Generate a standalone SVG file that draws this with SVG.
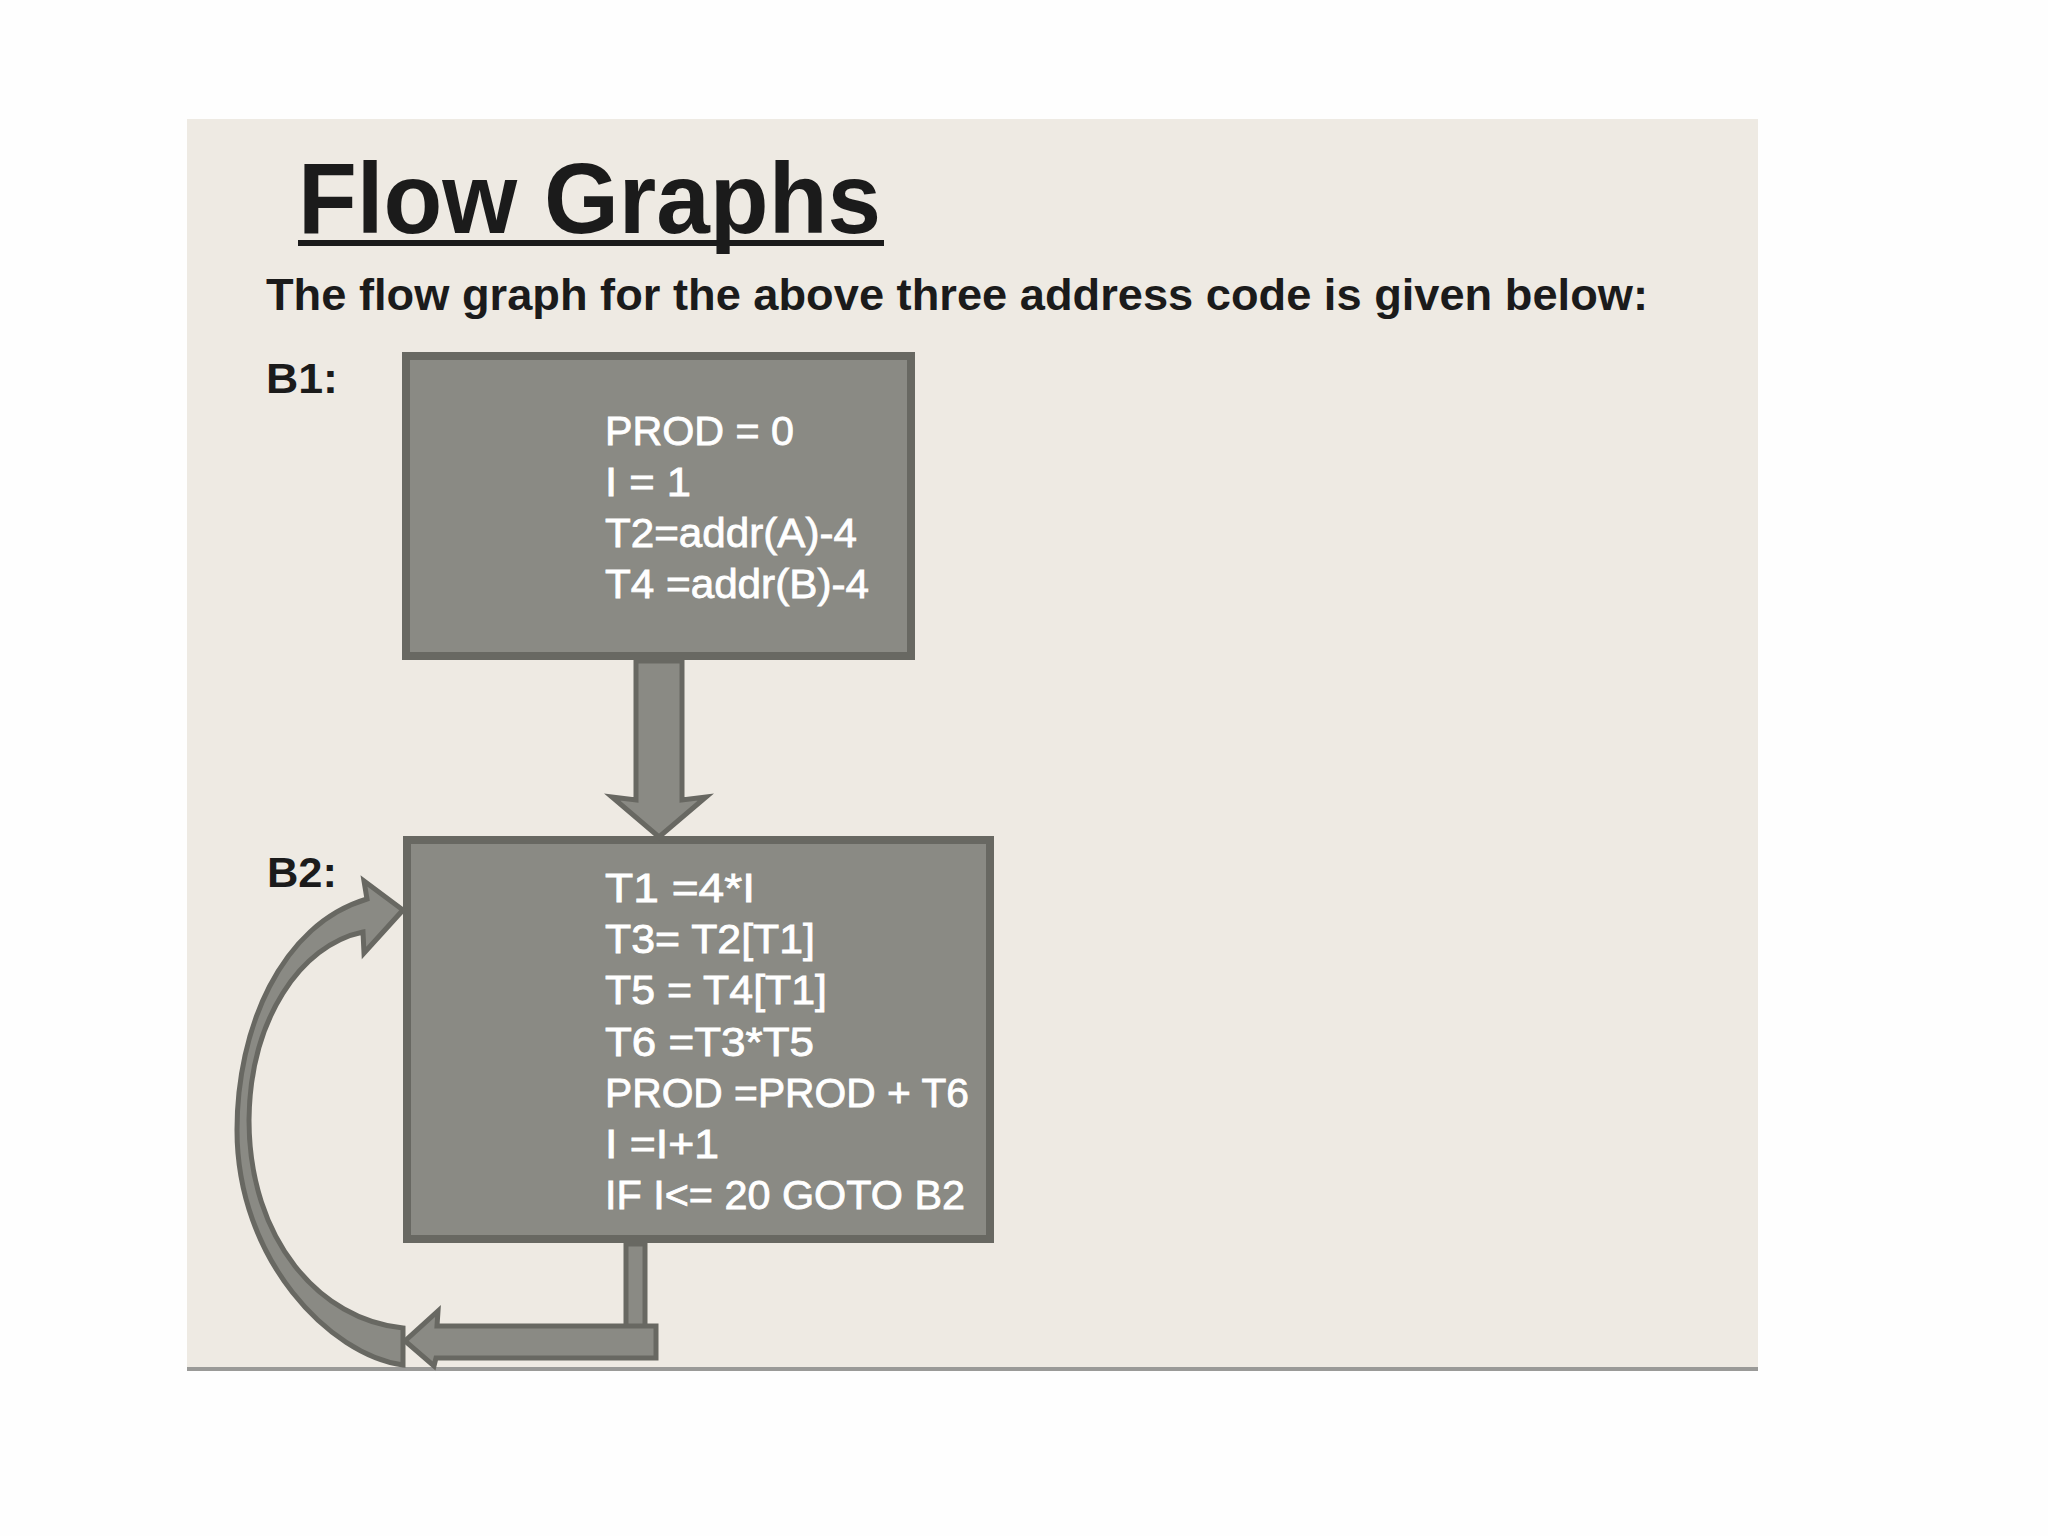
<svg xmlns="http://www.w3.org/2000/svg" width="2048" height="1536" viewBox="0 0 2048 1536">
<defs>
<style>
.hdr{font-family:"Liberation Sans",Arial,sans-serif;font-weight:bold;fill:#1b1b1b}
.code{font-family:"Liberation Sans",Arial,sans-serif;font-size:41px;fill:#ffffff;stroke:#ffffff;stroke-width:0.8}
.box{fill:#8a8a84;stroke:#686862;stroke-width:8}
.conn{fill:#8a8a84;stroke:#686862;stroke-width:5;stroke-linejoin:miter}
</style>
</defs>
<rect x="0" y="0" width="2048" height="1536" fill="#fefefe"/>
<rect x="187" y="119" width="1571" height="1250" fill="#eeeae3"/>
<line x1="187" y1="1369" x2="1758" y2="1369" stroke="#9a9a98" stroke-width="4"/>
<g id="title">
<text class="hdr" x="298" y="233" font-size="100" textLength="583" lengthAdjust="spacingAndGlyphs">Flow Graphs</text>
<rect x="298" y="240" width="586" height="6" fill="#1b1b1b"/>
</g>
<g id="subtitle">
<text class="hdr" x="266" y="310" font-size="44" textLength="1382" lengthAdjust="spacingAndGlyphs">The flow graph for the above  three address code is given below:</text>
</g>
<g id="B1">
<text class="hdr" x="266" y="393" font-size="42" textLength="72" lengthAdjust="spacingAndGlyphs">B1:</text>
<rect class="box" x="406" y="356" width="505" height="300"/>
<text class="code" x="605" y="445" textLength="189" lengthAdjust="spacingAndGlyphs">PROD = 0</text>
<text class="code" x="605" y="496" textLength="86" lengthAdjust="spacingAndGlyphs">I = 1</text>
<text class="code" x="605" y="547" textLength="252" lengthAdjust="spacingAndGlyphs">T2=addr(A)-4</text>
<text class="code" x="605" y="598" textLength="264" lengthAdjust="spacingAndGlyphs">T4 =addr(B)-4</text>
</g>
<g id="B2">
<text class="hdr" x="267" y="887" font-size="42" textLength="70" lengthAdjust="spacingAndGlyphs">B2:</text>
<rect class="box" x="407" y="840" width="583" height="399"/>
<text class="code" x="605" y="902" textLength="150" lengthAdjust="spacingAndGlyphs">T1 =4*I</text>
<text class="code" x="605" y="953" textLength="210" lengthAdjust="spacingAndGlyphs">T3= T2[T1]</text>
<text class="code" x="605" y="1004" textLength="222" lengthAdjust="spacingAndGlyphs">T5 = T4[T1]</text>
<text class="code" x="605" y="1056" textLength="209" lengthAdjust="spacingAndGlyphs">T6 =T3*T5</text>
<text class="code" x="605" y="1107" textLength="364" lengthAdjust="spacingAndGlyphs">PROD =PROD + T6</text>
<text class="code" x="605" y="1158" textLength="114" lengthAdjust="spacingAndGlyphs">I =I+1</text>
<text class="code" x="605" y="1209" textLength="360" lengthAdjust="spacingAndGlyphs">IF I&lt;= 20 GOTO B2</text>
</g>
<g id="connectors">
<path class="conn" d="M636,661 L682,661 L682,800 L706,797 L659,837 L612,797 L636,800 Z"/>
<rect class="conn" x="626" y="1244" width="19" height="84"/>
<path class="conn" d="M656,1326 L656,1358 L436,1358 L434,1366 L405,1341 L438,1311 L437,1326 Z"/>
<path class="conn" d="M403,1365 C330,1355 237,1260 237,1130 C237,1030 280,925 367,899 L364,881 L403,910 L364,953 L363,932 C300,945 250,1020 249,1120 C249,1240 320,1320 403,1328 Z"/>
</g>
</svg>
